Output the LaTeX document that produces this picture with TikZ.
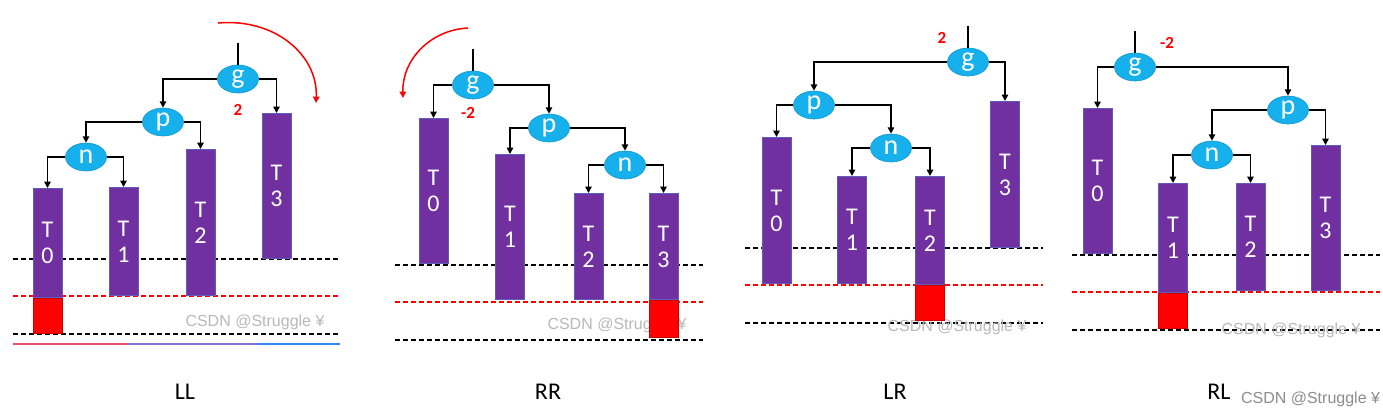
\documentclass[tikz,border=0pt]{standalone}
\usepackage{fontspec}
\setmainfont{Carlito}
\newfontfamily\stampfont{Liberation Sans}
\usetikzlibrary{arrows.meta,shapes.geometric}

\definecolor{knotblue}{RGB}{22,176,236}
\definecolor{treepurple}{RGB}{112,48,160}
\definecolor{treeedge}{RGB}{96,92,190}
\definecolor{growred}{RGB}{255,0,0}
\definecolor{linepink}{RGB}{238,78,112}
\definecolor{linelilac}{RGB}{132,112,214}
\definecolor{lineblue}{RGB}{50,140,240}

\tikzset{
  >={Triangle[length=3.2pt,width=3.2pt]},
  knot/.style={ellipse, fill=knotblue, draw=knotblue!85!black, line width=0.3pt,
    minimum width=20.5pt, minimum height=14pt, inner sep=0pt, text=white,
    font=\fontsize{14}{14}\selectfont},
  subtree/.style={rectangle, anchor=north, fill=treepurple, draw=treeedge, line width=0.4pt,
    minimum width=14.5pt, minimum height=#1*0.5pt, inner sep=0pt, text=white,
    align=center, font=\fontsize{12}{13}\selectfont},
  growbox/.style={rectangle, anchor=north, fill=growred, draw=growred!80!black, line width=0.3pt,
    minimum width=14.5pt, minimum height=#1*0.5pt, inner sep=0pt},
  branch/.style={->, line width=0.8pt},
  stem/.style={line width=0.8pt},
  guide/.style={line width=0.75pt, dash pattern=on 2.5pt off 1.5pt},
  factor/.style={text=growred, font=\bfseries\fontsize{8.5}{8.5}\selectfont},
  turn/.style={->, draw=growred, line width=0.75pt},
  stamp/.style={text=black!28, font=\stampfont\fontsize{8}{8}\selectfont},
  caption/.style={font=\fontsize{12}{12}\selectfont}
}

\begin{document}
\begin{tikzpicture}[x=0.5pt, y=-0.5pt]
        \useasboundingbox (0,0) rectangle (1383,418);

        % LL
        \begin{scope}
        \draw[guide] (13,259) -- (340,259);
        \draw[guide, growred] (13,296) -- (340,296);
        \draw[guide] (13,334) -- (340,334);
        \draw[line width=1pt, linepink] (13,344) -- (128,344);
        \draw[line width=1pt, linelilac] (128,344) -- (258,344);
        \draw[line width=1pt, lineblue] (258,344) -- (340,344);
        \node[stamp] (llstamp) at (255,322) {CSDN @Struggle ¥};

        \node[knot] (llg) at (238,79) {g};
        \node[knot] (llp) at (163,122) {p};
        \node[knot] (lln) at (86,157) {n};
        \node[subtree=109] (llt0) at (47.5,188) {T\\0};
        \node[subtree=108] (llt1) at (123.5,187) {T\\1};
        \node[subtree=146] (llt2) at (200.5,149) {T\\2};
        \node[subtree=145] (llt3) at (276.5,113) {T\\3};
        \node[growbox=35] (llx) at (llt0.south) {};
        \node[factor] (llf) at (238,110) {2};

        \draw[stem] (llg.north) -- ++(0,-22);
        \draw[branch] (llg.west) -| (llp.north);
        \draw[branch] (llg.east) -| (llt3.north);
        \draw[branch] (llp.west) -| (lln.north);
        \draw[branch] (llp.east) -| (llt2.north);
        \draw[branch] (lln.west) -| (llt0.north);
        \draw[branch] (lln.east) -| (llt1.north);
        \draw[turn] (218,23) .. controls (275,18) and (318,55) .. (316,103);
        \end{scope}

        % RR
        \begin{scope}
        \draw[guide] (395,265) -- (703,265);
        \draw[guide, growred] (395,302) -- (703,302);
        \draw[guide] (395,340) -- (703,340);
        \node[stamp] (rrstamp) at (617,325) {CSDN @Struggle ¥};

        \node[knot] (rrg) at (473,85) {g};
        \node[knot] (rrp) at (549,128) {p};
        \node[knot] (rrn) at (625,165) {n};
        \node[subtree=145] (rrt0) at (433.5,118) {T\\0};
        \node[subtree=145] (rrt1) at (510,154) {T\\1};
        \node[subtree=106] (rrt2) at (588.5,193) {T\\2};
        \node[subtree=106] (rrt3) at (663.5,193) {T\\3};
        \node[growbox=37] (rrx) at (rrt3.south) {};
        \node[factor] (rrf) at (468,113) {-2};

        \draw[stem] (rrg.north) -- ++(0,-22);
        \draw[branch] (rrg.west) -| (rrt0.north);
        \draw[branch] (rrg.east) -| (rrp.north);
        \draw[branch] (rrp.west) -| (rrt1.north);
        \draw[branch] (rrp.east) -| (rrn.north);
        \draw[branch] (rrn.west) -| (rrt2.north);
        \draw[branch] (rrn.east) -| (rrt3.north);
        \draw[turn] (468,28) .. controls (430,30) and (402,60) .. (403,98);
        \end{scope}

        % LR
        \begin{scope}
        \draw[guide] (745,248) -- (1043,248);
        \draw[guide, growred] (745,285) -- (1043,285);
        \draw[guide] (745,323) -- (1043,323);
        \node[stamp] (lrstamp) at (957,327) {CSDN @Struggle ¥};

        \node[knot] (lrg) at (968,62) {g};
        \node[knot] (lrp) at (814,105) {p};
        \node[knot] (lrn) at (891,148) {n};
        \node[subtree=146] (lrt0) at (776.5,137) {T\\0};
        \node[subtree=107] (lrt1) at (852,176) {T\\1};
        \node[subtree=108] (lrt2) at (930,176) {T\\2};
        \node[subtree=146] (lrt3) at (1005,101) {T\\3};
        \node[growbox=35] (lrx) at (lrt2.south) {};
        \node[factor] (lrf) at (942,38) {2};

        \draw[stem] (lrg.north) -- ++(0,-22);
        \draw[branch] (lrg.west) -| (lrp.north);
        \draw[branch] (lrg.east) -| (lrt3.north);
        \draw[branch] (lrp.west) -| (lrt0.north);
        \draw[branch] (lrp.east) -| (lrn.north);
        \draw[branch] (lrn.west) -| (lrt1.north);
        \draw[branch] (lrn.east) -| (lrt2.north);
        \end{scope}

        % RL
        \begin{scope}
        \draw[guide] (1072,255) -- (1380,255);
        \draw[guide, growred] (1072,292) -- (1380,292);
        \draw[guide] (1072,330) -- (1380,330);
        \node[stamp] (rlstamp) at (1291,330) {CSDN @Struggle ¥};

        \node[knot] (rlg) at (1135,67) {g};
        \node[knot] (rlp) at (1288,110) {p};
        \node[knot] (rln) at (1212,155) {n};
        \node[subtree=145] (rlt0) at (1097.5,108) {T\\0};
        \node[subtree=109] (rlt1) at (1173,183) {T\\1};
        \node[subtree=107] (rlt2) at (1250.5,183) {T\\2};
        \node[subtree=145] (rlt3) at (1325.5,145) {T\\3};
        \node[growbox=35] (rlx) at (rlt1.south) {};
        \node[factor] (rlf) at (1167,43) {-2};

        \draw[stem] (rlg.north) -- ++(0,-22);
        \draw[branch] (rlg.west) -| (rlt0.north);
        \draw[branch] (rlg.east) -| (rlp.north);
        \draw[branch] (rlp.west) -| (rln.north);
        \draw[branch] (rlp.east) -| (rlt3.north);
        \draw[branch] (rln.west) -| (rlt1.north);
        \draw[branch] (rln.east) -| (rlt2.north);
        \end{scope}

        \node[caption] (llname) at (185,392) {LL};
        \node[caption] (rrname) at (548,392) {RR};
        \node[caption] (lrname) at (895,392) {LR};
        \node[caption] (rlname) at (1219,392) {RL};
        \node[stamp, text=black!45, anchor=west] (pagestamp) at (1234,399) {CSDN @Struggle ¥};

\end{tikzpicture}
\end{document}
